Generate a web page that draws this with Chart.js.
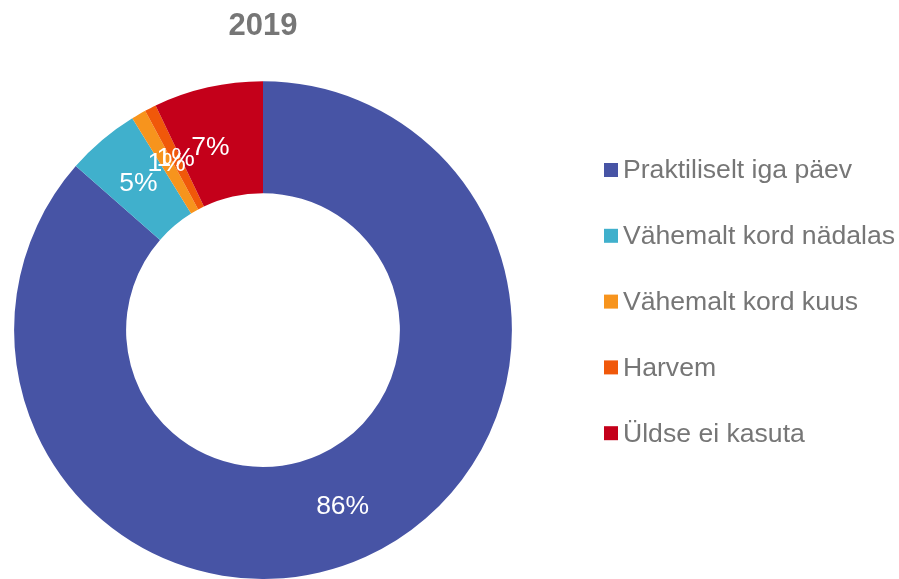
<!DOCTYPE html>
<html>
<head>
<meta charset="utf-8">
<script src="https://cdn.jsdelivr.net/npm/chart.js@4/dist/chart.umd.min.js"></script>
<style>
  html, body { margin: 0; padding: 0; background: #ffffff; overflow: hidden; }
  #wrap { position: relative; width: 899px; height: 579px; }
</style>
</head>
<body>
<div id="wrap"><canvas id="c"></canvas></div>
<script>
// ---- data ----
const chartTitle = "2019";
const categories = [
  "Praktiliselt iga päev",
  "Vähemalt kord nädalas",
  "Vähemalt kord kuus",
  "Harvem",
  "Üldse ei kasuta"
];
const shares = [86.45, 4.75, 0.95, 0.75, 7.1];   // percent of respondents
const sliceColors = ["#4754A5", "#40B0CC", "#F7941D", "#F0580A", "#C4001A"];

const FONT = "'Liberation Sans', Arial, sans-serif";
const TEXT_GRAY = "#767676";

// data labels at the middle of each ring segment
const sliceLabels = {
  id: "sliceLabels",
  afterDatasetsDraw(chart) {
    const ctx = chart.ctx;
    const meta = chart.getDatasetMeta(0);
    const nudge = { 4: [-10, 5] };
    ctx.save();
    ctx.font = "26.5px " + FONT;
    ctx.fillStyle = "#ffffff";
    ctx.textAlign = "center";
    ctx.textBaseline = "middle";
    meta.data.forEach((arc, i) => {
      const p = arc.tooltipPosition();
      const d = nudge[i] || [0, 0];
      const v = chart.data.datasets[0].data[i];
      ctx.fillText(Math.round(v) + "%", p.x + d[0], p.y + 1 + d[1]);
    });
    ctx.restore();
  }
};

// legend on the right
const sideLegend = {
  id: "sideLegend",
  afterDraw(chart) {
    const ctx = chart.ctx;
    const ds = chart.data.datasets[0];
    const x0 = 604, y0 = 170, step = 65.8, box = 14;
    ctx.save();
    ctx.font = "26.6px " + FONT;
    ctx.textAlign = "left";
    ctx.textBaseline = "middle";
    chart.data.labels.forEach((lab, i) => {
      const y = y0 + i * step;
      ctx.fillStyle = ds.backgroundColor[i];
      ctx.fillRect(x0, y - box / 2, box, box);
      ctx.fillStyle = TEXT_GRAY;
      ctx.fillText(lab, x0 + box + 5, y + 1);
    });
    ctx.restore();
  }
};

new Chart(document.getElementById("c"), {
  type: "doughnut",
  data: {
    labels: categories,
    datasets: [{
      data: shares,
      backgroundColor: sliceColors,
      borderWidth: 0,
      hoverOffset: 0,
      offset: 0
    }]
  },
  options: {
    responsive: true,
    maintainAspectRatio: false,
    animation: false,
    devicePixelRatio: 1,
    cutout: "55%",
    rotation: 0,
    layout: { padding: { left: 14, right: 387, top: 0, bottom: 0 } },
    plugins: {
      legend: { display: false },
      tooltip: { enabled: false },
      title: {
        display: true,
        text: chartTitle,
        fullSize: false,
        color: TEXT_GRAY,
        font: { family: FONT, size: 31, weight: "bold" },
        padding: { top: 8, bottom: 36 }
      }
    }
  },
  plugins: [sliceLabels, sideLegend]
});
</script>
</body>
</html>
